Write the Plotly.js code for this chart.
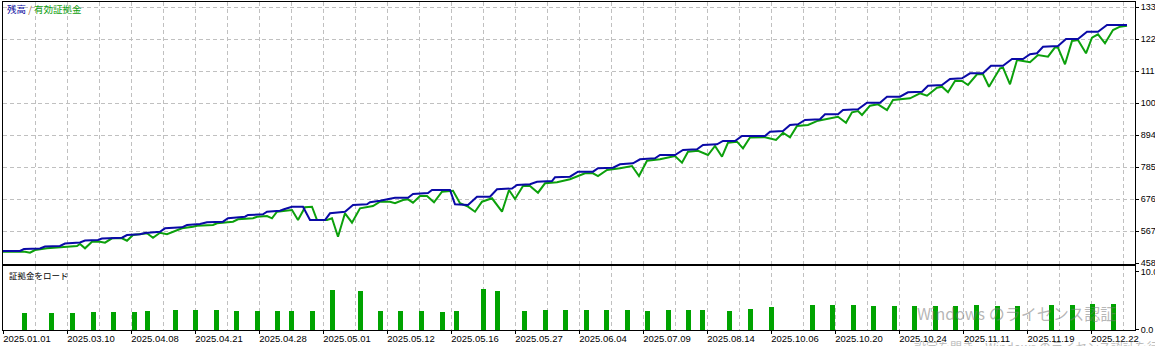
<!DOCTYPE html>
<html><head><meta charset="utf-8">
<script src="https://cdn.plot.ly/plotly-3.0.1.min.js"></script>
<style>html,body{margin:0;padding:0;background:#fff;overflow:hidden}</style>
</head><body><div id="chart" style="width:1155px;height:346px"></div>
<script>
// x = trade sequence index; y = account value
const balanceIdx = [0,4.25,5.25,9.25,10.5,14.25,15.5,19.25,20.5,23.75,24.75,29.75,31,34.25,35.5,39.25,40.5,44.75,46,49.25,51,55,56.25,60.5,61.25,65,66,69.25,70.25,72.25,75,76.75,80.5,81.75,85.5,87.5,91,91.75,94.25,98,101.25,102.5,106.25,107.25,111.75,113,116.25,118.5,121.75,123.5,127.25,128.5,131.75,133.5,137.25,138,141.75,143.75,147.5,148.75,152.5,154.25,157.5,159.25,163,164.25,168,170,173.5,175,178.5,180,183,184.75,190.5,191.75,195,196.75,198.75,200.5,204.25,205.5,208.75,210,213.75,216,219.25,221,224.25,226.25,229.75,231.25,234.75,236.75,239.75,241.75,245,247,250,252.25,255,256.75,258.5,260,263.75,265.75,268.75,271,273.75,276,281];
const balanceVal = [5000,5000,5068,5085,5153,5170,5255,5289,5358,5375,5426,5453,5545,5569,5613,5657,5773,5807,5885,5920,5977,5998,6114,6168,6226,6250,6338,6373,6420,6509,6509,6056,6056,6284,6338,6567,6590,6659,6713,6815,6815,6941,6975,7078,7078,6590,6567,6849,6849,7101,7129,7248,7272,7360,7384,7510,7531,7701,7701,7817,7837,7953,7987,8123,8157,8270,8270,8440,8464,8610,8634,8747,8747,8917,8917,9063,9087,9291,9315,9462,9486,9656,9656,9802,9826,10051,10051,10255,10255,10405,10426,10630,10654,10858,10882,11052,11052,11311,11311,11539,11539,11700,11734,11958,11982,12221,12221,12469,12469,12697,12697];
const equityIdx = [0,5.5,6.75,8,11,15,18.5,19.25,20.5,22.25,24.25,25.5,27.25,29.75,31,32.5,36,37.5,39.25,41,42.5,44.75,47.5,48.5,52.5,53.5,57.5,58.75,62.5,63.5,66,67.25,68.5,71,72.25,73.75,75.5,77.25,78.5,81,82.25,83.75,85.5,87.25,89.25,92.5,94.25,96.75,98,100,101.25,102.5,104.25,106,107.75,109.75,112.5,114.25,116.25,118,119.75,122.25,124.75,126.5,128,130,131.75,133.75,135.5,138.5,141.75,145.5,147.5,148.75,151,154.25,157.25,159,161,164.25,168,169.75,171.25,173.75,176.25,178,179.75,181.25,183.5,185,186.75,190.5,193.25,195,196.75,198.5,201.25,203.75,205.75,208.75,210.75,212.25,213.75,214.75,216.75,218.75,221,222.5,226.75,229.25,231,233.5,234.75,236.25,238,239.75,241.25,243.5,245,246.5,249.25,250,251.75,253.5,255,256.75,258.75,261.25,263,263.75,265.5,267.25,268.75,270.75,272.25,273.75,275.5,277.5,279.25,281];
const equityVal = [4976,4976,4942,5034,5092,5146,5170,5238,5092,5317,5317,5283,5433,5433,5351,5545,5603,5453,5623,5569,5657,5773,5828,5862,5885,5943,5998,6080,6114,6168,6192,6114,6338,6373,6396,6056,6488,6509,6056,6056,6114,5487,6284,5964,6454,6533,6679,6679,6625,6737,6761,6645,6873,6873,6659,7020,7054,6625,6509,6338,6679,6795,6338,7078,6771,7214,7214,6986,7306,7340,7442,7646,7646,7554,7759,7817,7895,7554,8076,8123,8236,8007,8382,8416,8270,8576,8212,8689,8723,8498,8866,8873,8781,9029,8873,9257,9291,9438,9486,9574,9370,9724,9768,9632,9949,9996,9802,10143,10201,10371,10289,10562,10596,10405,10790,10790,10654,11018,11018,10596,11223,11243,10678,11505,11471,11427,11676,11618,11938,11924,11359,12153,12187,11734,12265,12381,12074,12527,12640,12674];
const loadIdx = [5.3,12.2,17.3,22.6,27.6,32.8,36.1,43,48.1,53.3,58.3,63.6,68.6,72,77.3,82.3,89.3,94.3,99.3,104.5,109.8,113.3,120.1,123.6,130.3,135.6,140.6,145.8,150.8,156.1,161.1,166.3,171.3,174.8,181.6,186.8,192.1,202.3,207.3,212.6,217.6,222.8,227.8,233.1,238.1,243.3,248.6,253.6,262.2,267.3,272.3,277.6];
const loadPct = [3.0,3.0,3.0,3.15,3.15,3.15,3.3,3.45,3.45,3.45,3.3,3.3,3.3,3.3,3.3,6.9,6.7,3.3,3.3,3.3,3.1,3.3,7.05,6.7,3.3,3.45,3.45,3.45,3.45,3.45,3.3,3.45,3.45,3.45,3.3,3.6,4.0,4.3,4.3,4.3,4.1,4.1,4.1,4.1,4.1,4.3,4.1,4.1,4.3,4.3,4.5,4.5];
const dateTickIdx = [0,16,32,48,64,80,96,112,128,144,160,176,192,208,224,240,256,272];
const dateTickText = ["2025.01.01","2025.03.10","2025.04.08","2025.04.21","2025.04.28","2025.05.01","2025.05.12","2025.05.16","2025.05.27","2025.06.04","2025.07.09","2025.08.14","2025.10.06","2025.10.20","2025.10.24","2025.11.11","2025.11.19","2025.12.22"];
const balanceTickVals = [13300,12210,11120,10030,8940,7850,6760,5670,4580];
const balanceTickText = ["133","122","111","100","894","785","676","567","458"];
const loadTickVals = [0,10];
const loadTickText = ["0.0","10.0"];

const tickFont = {family:'Liberation Sans, Arial, sans-serif', size:9.5, color:'#000'};
const rightFont = {family:'Liberation Sans, Arial, sans-serif', size:9, color:'#000'};
const gridColor = '#c0c0c0';
const gridDash = '4px,3px';

const traces = [
  {type:'scatter', mode:'lines', x:equityIdx, y:equityVal, xaxis:'x', yaxis:'y',
   line:{color:'#0ca00c', width:2}, hoverinfo:'skip'},
  {type:'scatter', mode:'lines', x:balanceIdx, y:balanceVal, xaxis:'x', yaxis:'y',
   line:{color:'#0a0aa6', width:2}, hoverinfo:'skip'},
  {type:'bar', x:loadIdx, y:loadPct, xaxis:'x2', yaxis:'y2', width:1.25,
   marker:{color:'#00a300', line:{width:0}}, hoverinfo:'skip'}
];

const layout = {
  width:1155, height:346,
  margin:{l:3, r:20, t:2, b:16, pad:0},
  paper_bgcolor:'#ffffff', plot_bgcolor:'#ffffff',
  showlegend:false, font:tickFont, bargap:0,
  xaxis:{anchor:'y', range:[0,283], tickmode:'linear', tick0:0, dtick:8,
    showticklabels:false, ticks:'', showgrid:true, gridcolor:gridColor, griddash:gridDash, gridwidth:1,
    zeroline:false, showline:true, mirror:true, linecolor:'#000', linewidth:1, fixedrange:true},
  yaxis:{domain:[0.2012,1], range:[4557,13481], side:'right', tickmode:'array',
    tickvals:balanceTickVals, ticktext:balanceTickText, ticks:'outside', ticklen:3, tickcolor:'#000',
    tickfont:rightFont, showgrid:true, gridcolor:gridColor, griddash:gridDash, gridwidth:1,
    zeroline:false, showline:true, mirror:true, linecolor:'#000', linewidth:1},
  xaxis2:{anchor:'y2', range:[0,283], tickmode:'array', tickvals:dateTickIdx, ticktext:dateTickText,
    ticks:'outside', ticklen:3, tickcolor:'#000', tickfont:tickFont, ticklabelshift:24, ticklabelstandoff:-3,
    showgrid:true, gridcolor:gridColor, griddash:gridDash, gridwidth:1,
    minor:{tickmode:'linear', tick0:0, dtick:8, showgrid:true, gridcolor:gridColor, griddash:gridDash, gridwidth:1, ticks:''},
    zeroline:false, showline:true, mirror:true, linecolor:'#000', linewidth:1},
  yaxis2:{domain:[0,0.1951], range:[0,11.03], side:'right', tickmode:'array',
    tickvals:loadTickVals, ticktext:loadTickText, ticks:'outside', ticklen:3, tickcolor:'#000',
    tickfont:rightFont, showgrid:false, zeroline:false, showline:true, mirror:true, linecolor:'#000', linewidth:1},
  annotations:[
    {xref:'paper', yref:'paper', x:0.0018, y:0.979, xanchor:'left', yanchor:'middle', showarrow:false,
     text:'<span style="color:#0a0aa0">残高</span> <span style="color:#a06a40">/</span> <span style="color:#0ca00c">有効証拠金</span>',
     font:{family:'Noto Sans CJK JP', size:9.5}},
    {xref:'paper', yref:'paper', x:0.0035, y:0.168, xanchor:'left', yanchor:'middle', showarrow:false,
     text:'証拠金をロード', font:{family:'Noto Sans CJK JP', size:8.5, color:'#000'}},
    {xref:'paper', yref:'paper', x:0.8057, y:0.052, xanchor:'left', yanchor:'middle', showarrow:false,
     text:'Windows のライセンス認証', font:{family:'Noto Sans CJK JP', size:16, color:'rgba(120,120,120,0.55)'}},
    {xref:'paper', yref:'paper', x:0.8030, y:-0.05, xanchor:'left', yanchor:'middle', showarrow:false,
     text:'設定を開き、Windows のライセンス認証を行ってください。', font:{family:'Noto Sans CJK JP', size:12, color:'rgba(120,120,120,0.5)'}}
  ]
};

Plotly.newPlot('chart', traces, layout, {displayModeBar:false, staticPlot:true});
</script>
</body></html>
